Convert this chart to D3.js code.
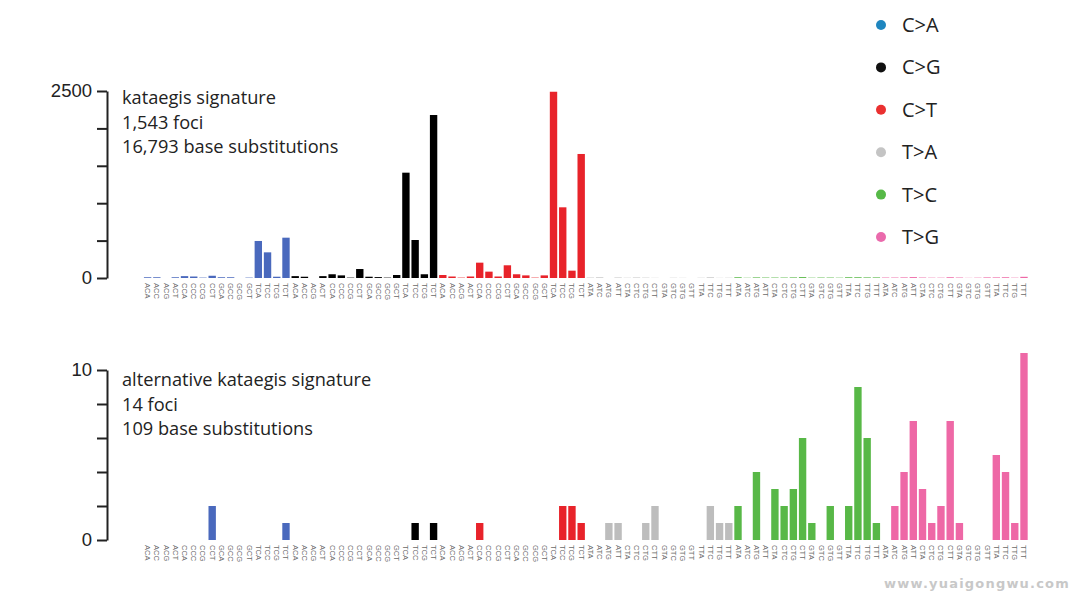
<!DOCTYPE html>
<html>
<head>
<meta charset="utf-8">
<script src="https://cdn.jsdelivr.net/npm/d3@7"></script>
<style>
  body { margin: 0; background: #fff; }
  svg { font-family: "Open Sans", "Lato", sans-serif; }
  .axis path, .axis line { stroke: #222; stroke-width: 2; }
  .axis text { font-size: 18.5px; fill: #222; }
  .ctx { font-size: 7.5px; fill: #6a6a6a; font-family: "Liberation Sans", sans-serif; }
  .note { font-size: 18.2px; fill: #222; }
  .legend text { font-size: 20px; fill: #222; }
</style>
</head>
<body>
<div id="chart"></div>
<script>
// mutation classes and their colours
var mutationTypes = ['C>A', 'C>G', 'C>T', 'T>A', 'T>C', 'T>G'];
var barColors = ['#4a69bd', '#000000', '#e8232a', '#bdbdbd', '#58b847', '#ee68a6'];
var legendColors = ['#1f86bf', '#111111', '#ea3030', '#c4c4c4', '#56b947', '#ea6aac'];

var cContexts = ['ACA', 'ACC', 'ACG', 'ACT', 'CCA', 'CCC', 'CCG', 'CCT',
                 'GCA', 'GCC', 'GCG', 'GCT', 'TCA', 'TCC', 'TCG', 'TCT'];
var tContexts = ['ATA', 'ATC', 'ATG', 'ATT', 'CTA', 'CTC', 'CTG', 'CTT',
                 'GTA', 'GTC', 'GTG', 'GTT', 'TTA', 'TTC', 'TTG', 'TTT'];

// kataegis signature counts, 16 per mutation class
var kataegisCA = [10, 10, 0, 10, 25, 20, 5, 30, 10, 10, 0, 5, 495, 343, 17, 539];
var kataegisCG = [25, 17, 0, 25, 50, 35, 5, 120, 17, 12, 5, 40, 1408, 508, 50, 2179];
var kataegisCT = [40, 20, 5, 20, 205, 85, 20, 170, 50, 35, 5, 35, 2490, 945, 98, 1658];
var kataegisTA = [5, 8, 0, 6, 3, 6, 4, 2, 0, 3, 2, 0, 3, 8, 2, 3];
var kataegisTC = [10, 3, 8, 6, 6, 6, 8, 12, 4, 6, 6, 4, 10, 10, 8, 8];
var kataegisTG = [6, 6, 8, 12, 6, 4, 4, 10, 6, 2, 4, 8, 8, 10, 4, 16];

// alternative kataegis signature counts
var altCA = [0, 0, 0, 0, 0, 0, 0, 2, 0, 0, 0, 0, 0, 0, 0, 1];
var altCG = [0, 0, 0, 0, 0, 0, 0, 0, 0, 0, 0, 0, 0, 1, 0, 1];
var altCT = [0, 0, 0, 0, 1, 0, 0, 0, 0, 0, 0, 0, 0, 2, 2, 1];
var altTA = [0, 0, 1, 1, 0, 0, 1, 2, 0, 0, 0, 0, 0, 2, 1, 1];
var altTC = [2, 0, 4, 0, 3, 2, 3, 6, 1, 0, 2, 0, 2, 9, 6, 1];
var altTG = [0, 2, 4, 7, 3, 1, 2, 7, 1, 0, 0, 0, 5, 4, 1, 11];

var topTicks = [0, 500, 1000, 1500, 2000, 2500];
var bottomTicks = [0, 2, 4, 6, 8, 10];

var topNotes = ['kataegis signature', '1,543 foci', '16,793 base substitutions'];
var bottomNotes = ['alternative kataegis signature', '14 foci', '109 base substitutions'];

function buildRows(groups) {
  var rows = [];
  groups.forEach(function (values, t) {
    var ctx = t < 3 ? cContexts : tContexts;
    values.forEach(function (v, i) {
      rows.push({ type: t, context: ctx[i], value: v, key: t + '-' + ctx[i] });
    });
  });
  return rows;
}

var kataegisRows = buildRows([kataegisCA, kataegisCG, kataegisCT, kataegisTA, kataegisTC, kataegisTG]);
var altRows = buildRows([altCA, altCG, altCT, altTA, altTC, altTG]);

var width = 1077, height = 595;

var svg = d3.select('#chart').append('svg')
  .attr('width', width)
  .attr('height', height);

var x = d3.scaleBand()
  .domain(kataegisRows.map(function (d) { return d.key; }))
  .range([143, 1028.6])
  .paddingInner(0.2)
  .paddingOuter(0.1);

function drawPanel(rows, yDomain, yRange, ticks, notes, noteY) {
  var y = d3.scaleLinear().domain(yDomain).range(yRange);
  var top = yDomain[1];

  var axis = d3.axisLeft(y)
    .tickValues(ticks)
    .tickSize(10)
    .tickSizeOuter(0)
    .tickPadding(5)
    .tickFormat(function (d) { return (d === 0 || d === top) ? d : ''; });

  svg.append('g')
    .attr('class', 'axis')
    .attr('transform', 'translate(107,0)')
    .call(axis);

  svg.append('g')
    .selectAll('rect')
    .data(rows)
    .enter()
    .append('rect')
    .attr('x', function (d) { return x(d.key); })
    .attr('width', x.bandwidth())
    .attr('y', function (d) { return y(d.value); })
    .attr('height', function (d) { return y(0) - y(d.value); })
    .attr('fill', function (d) { return barColors[d.type]; });

  var base = y(0);
  svg.append('g')
    .selectAll('text')
    .data(rows)
    .enter()
    .append('text')
    .attr('class', 'ctx')
    .attr('transform', function (d) {
      return 'translate(' + (x(d.key) + x.bandwidth() / 2 - 2.5) + ',' + (base + 5) + ') rotate(90)';
    })
    .text(function (d) { return d.context; });

  svg.append('g')
    .selectAll('text')
    .data(notes)
    .enter()
    .append('text')
    .attr('class', 'note')
    .attr('x', 122)
    .attr('y', function (d, i) { return noteY + i * 24.5; })
    .text(function (d) { return d; });
}

drawPanel(kataegisRows, [0, 2500], [278, 91], topTicks, topNotes, 104);
drawPanel(altRows, [0, 10], [540, 370], bottomTicks, bottomNotes, 386);

// legend
var legend = svg.append('g').attr('class', 'legend');
var ly = d3.scalePoint().domain(mutationTypes).range([25, 237]);

legend.selectAll('circle')
  .data(mutationTypes)
  .enter()
  .append('circle')
  .attr('cx', 881)
  .attr('cy', function (d) { return ly(d); })
  .attr('r', 5)
  .attr('fill', function (d, i) { return legendColors[i]; });

legend.selectAll('text')
  .data(mutationTypes)
  .enter()
  .append('text')
  .attr('x', 902)
  .attr('y', function (d) { return ly(d) + 7; })
  .text(function (d) { return d; });

svg.append('text')
  .attr('x', 1070)
  .attr('y', 588)
  .attr('text-anchor', 'end')
  .style('font-family', '"DejaVu Sans", sans-serif')
  .style('font-weight', 'bold')
  .style('font-size', '13px')
  .style('letter-spacing', '1.2px')
  .style('fill', '#c8c8c8')
  .text('www.yuaigongwu.com');
</script>
</body>
</html>
